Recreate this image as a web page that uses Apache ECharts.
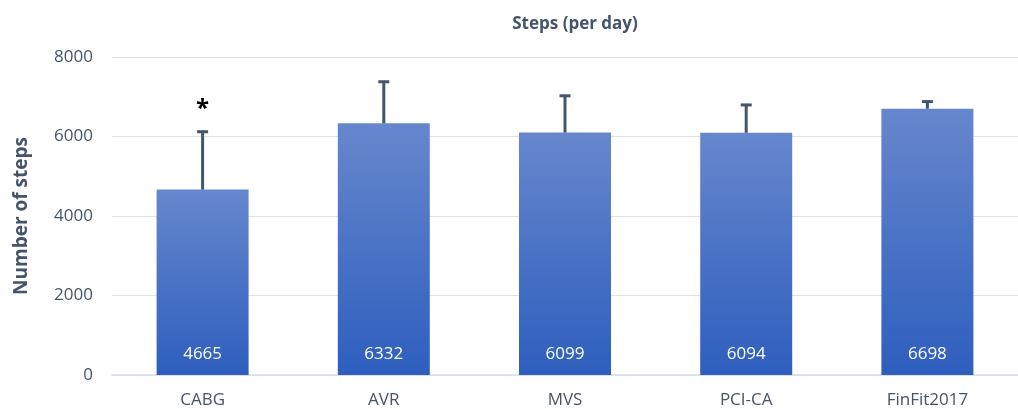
<!DOCTYPE html>
<html>
<head>
<meta charset="utf-8">
<script src="https://cdn.jsdelivr.net/npm/echarts@6/dist/echarts.min.js"></script>
<style>html,body{margin:0;padding:0;background:#fff}#c{width:1018px;height:409px}</style>
</head>
<body>
<div id="c"></div>
<script>
const categories = ['CABG', 'AVR', 'MVS', 'PCI-CA', 'FinFit2017'];
const meanSteps = [4665, 6332, 6099, 6094, 6698];
const sdSteps = [1480, 1070, 950, 725, 205];
const marks = ['*', '', '', '', ''];
const yTicks = { min: 0, max: 8000, interval: 2000 };

const chart = echarts.init(document.getElementById('c'));
const textColor = '#44546A';
const font = '"Open Sans", sans-serif';

chart.setOption({
  animation: false,
  title: {
    text: 'Steps (per day)',
    left: 570, top: 11, textAlign: 'center',
    textStyle: { fontSize: 17, fontWeight: 'bold', color: textColor, fontFamily: font }
  },
  grid: { left: 112, top: 57, bottom: 34, width: 918, containLabel: false },
  xAxis: {
    type: 'category', data: categories,
    axisLine: { lineStyle: { color: '#D9DEE6', width: 1.5 } },
    axisTick: { show: false },
    axisLabel: { color: textColor, fontSize: 17, fontFamily: font, margin: 17 }
  },
  yAxis: {
    type: 'value', min: yTicks.min, max: yTicks.max, interval: yTicks.interval,
    name: 'Number of steps', nameLocation: 'middle', nameGap: 81,
    nameTextStyle: { fontSize: 19, fontWeight: 'bold', color: textColor, fontFamily: font },
    axisLine: { show: false }, axisTick: { show: false },
    axisLabel: { color: textColor, fontSize: 17, fontFamily: font, margin: 19,
      formatter: function (v) { return String(v); } },
    splitLine: { lineStyle: { color: '#DDE2EA', width: 1.2 } }
  },
  series: [
    {
      type: 'bar', data: meanSteps, barWidth: 92,
      itemStyle: {
        color: new echarts.graphic.LinearGradient(0, 0, 0, 1, [
          { offset: 0, color: '#6687CD' },
          { offset: 1, color: '#2E5EBE' }
        ])
      },
      label: {
        show: true, position: 'insideBottom', distance: 12,
        color: '#FFFFFF', fontSize: 17, fontFamily: font
      },
      z: 2
    },
    {
      type: 'custom',
      data: meanSteps.map((m, i) => [i, m, m + sdSteps[i], marks[i]]),
      renderItem: function (params, api) {
        const x = api.value(0);
        const base = api.coord([x, api.value(1)]);
        const top = api.coord([x, api.value(2)]);
        const children = [
          { type: 'line', shape: { x1: base[0], y1: base[1], x2: top[0], y2: top[1] },
            style: { stroke: textColor, lineWidth: 3 } },
          { type: 'line', shape: { x1: top[0] - 5.5, y1: top[1] + 1, x2: top[0] + 5.5, y2: top[1] + 1 },
            style: { stroke: textColor, lineWidth: 3 } }
        ];
        const mk = api.value(3);
        if (mk) {
          children.push({ type: 'text', x: top[0], y: top[1] - 22,
            style: { text: mk, fill: '#000', font: 'bold 24px "Open Sans", sans-serif', align: 'center', verticalAlign: 'middle' } });
        }
        return { type: 'group', children: children };
      },
      z: 3
    }
  ]
});
</script>
</body>
</html>
